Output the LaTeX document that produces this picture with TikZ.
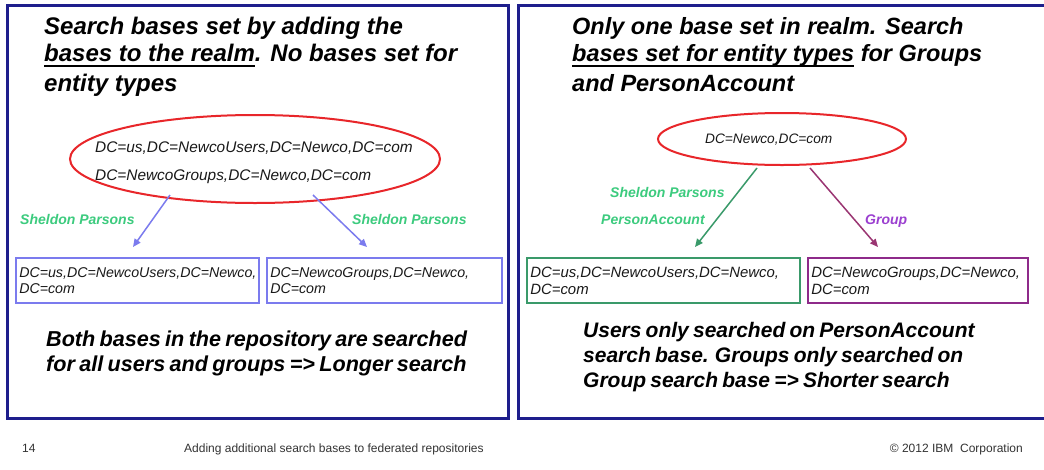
\documentclass[tikz,border=0pt]{standalone}
\usepackage{fontspec}
\setmainfont{Liberation Sans}
\usetikzlibrary{shapes.geometric,arrows.meta}

\definecolor{navy}{HTML}{1E1E8C}
\definecolor{realmred}{HTML}{E8262A}
\definecolor{periw}{HTML}{7B7BEE}
\definecolor{lblgreen}{HTML}{3CCB7E}
\definecolor{pagreen}{HTML}{3A9A6A}
\definecolor{grpplum}{HTML}{8E2A8A}
\definecolor{arrplum}{HTML}{9A3572}
\definecolor{grpviolet}{HTML}{9B3FD0}
\definecolor{footgray}{HTML}{333333}

% underline drawn as a rule a fixed distance under the baseline
\newcommand{\ulbar}[1]{\leavevmode\setbox0\hbox{#1}\rlap{\rule[-5.8pt]{\wd0}{1.6pt}}\box0\relax}
\newcommand{\tightwords}{\spaceskip=0.2em plus 0.05em\relax}

\begin{document}
\begin{tikzpicture}[x=1pt,y=-1pt,
  panel/.style={draw=navy,line width=2.4pt},
  headline/.style={anchor=base west,inner sep=0pt,
    font=\fontsize{24}{28}\selectfont\bfseries\itshape},
  summary/.style={anchor=base west,inner sep=0pt,
    font=\fontsize{21}{26}\selectfont\bfseries\itshape\tightwords},
  dn/.style={anchor=base west,inner sep=0pt,
    font=\fontsize{15.4}{18}\selectfont\itshape,text=black!90},
  realm/.style={ellipse,draw=realmred,line width=2pt,inner sep=0pt},
  basebox/.style={rectangle,line width=2pt,inner xsep=3.3pt,inner ysep=0pt,
    align=left,minimum height=45pt,
    font=\fontsize{14.2}{16.5}\selectfont\itshape,text=black!90},
  lbl/.style={anchor=base west,inner sep=0pt,
    font=\fontsize{14}{16}\selectfont\bfseries\itshape},
  link/.style={line width=1.5pt,-{Triangle[length=8pt,width=7pt]}},
  foot/.style={inner sep=0pt,font=\fontsize{12}{14}\selectfont,text=footgray}]

\useasboundingbox (0,0) rectangle (1044,469);
\fill[white] (0,0) rectangle (1044,469);

% two panels
\draw[panel] (7.5,5.5) rectangle (508.5,418.5);
\draw[panel] (518.5,5.5) rectangle (1052,418.5);

% ---------- left panel: bases added to the realm ----------
\node[headline] (tl1) at (44,34) {Search bases set by adding the};
\node[headline] (tl2) at (44,61) {\ulbar{bases to the realm}. No bases set for};
\node[headline] (tl3) at (44,91) {entity types};

\node[realm,minimum width=370pt,minimum height=88pt] (realmL) at (255,159) {};
\node[dn] (dnL1) at (95,152.5) {DC=us,DC=NewcoUsers,DC=Newco,DC=com};
\node[dn] (dnL2) at (95,180) {DC=NewcoGroups,DC=Newco,DC=com};

\node[basebox,draw=periw,minimum width=243pt,text width=236.4pt] (boxL1) at (137.5,280.5)
  {DC=us,DC=NewcoUsers,DC=Newco,\\DC=com};
\node[basebox,draw=periw,minimum width=235pt,text width=228.4pt] (boxL2) at (384.5,280.5)
  {DC=NewcoGroups,DC=Newco,\\DC=com};

\draw[link,periw] ([shift={(-85,36)}]realmL.center) -- ([shift={(-4.5,-10)}]boxL1.north);
\draw[link,periw] ([shift={(58,36)}]realmL.center) -- ([shift={(-17.5,-10)}]boxL2.north);

\node[lbl,text=lblgreen] (spL1) at (20,224.5) {Sheldon Parsons};
\node[lbl,text=lblgreen] (spL2) at (352,224.5) {Sheldon Parsons};

\node[summary,font=\fontsize{21.6}{26}\selectfont\bfseries\itshape\tightwords] (sumL1) at (46,346) {Both bases in the repository are searched};
\node[summary,font=\fontsize{21.6}{26}\selectfont\bfseries\itshape\tightwords] (sumL2) at (46,371.5) {for all users and groups => Longer search};

% ---------- right panel: bases set per entity type ----------
\node[headline,font=\fontsize{23.5}{28}\selectfont\bfseries\itshape] (tr1) at (572,34) {Only one base set in realm. Search};
\node[headline,font=\fontsize{23.5}{28}\selectfont\bfseries\itshape] (tr2) at (572,61) {\ulbar{bases set for entity types} for Groups};
\node[headline,font=\fontsize{23.5}{28}\selectfont\bfseries\itshape] (tr3) at (572,91) {and PersonAccount};

\node[realm,minimum width=248pt,minimum height=52pt] (realmR) at (782,139) {};
\node[dn,font=\fontsize{13.7}{16}\selectfont\itshape] (dnR) at (705,143) {DC=Newco,DC=com};

\node[basebox,draw=pagreen,minimum width=273pt,text width=266.4pt,
  font=\fontsize{14.9}{17}\selectfont\itshape] (boxR1) at (663.5,280.5)
  {DC=us,DC=NewcoUsers,DC=Newco,\\DC=com};
\node[basebox,draw=grpplum,minimum width=220pt,text width=213.4pt,
  font=\fontsize{14.9}{17}\selectfont\itshape] (boxR2) at (918,280.5)
  {DC=NewcoGroups,DC=Newco,\\DC=com};

\draw[link,pagreen] ([shift={(-25,29)}]realmR.center) -- ([shift={(31.5,-10)}]boxR1.north);
\draw[link,arrplum] ([shift={(28,29)}]realmR.center) -- ([shift={(-40,-10)}]boxR2.north);

\node[lbl,text=lblgreen] (spR) at (610,197.5) {Sheldon Parsons};
\node[lbl,text=lblgreen] (paR) at (601,224.5) {PersonAccount};
\node[lbl,text=grpviolet] (grR) at (865,224.5) {Group};

\node[summary] (sumR1) at (583,337) {Users only searched on PersonAccount};
\node[summary] (sumR2) at (583,362) {search base. Groups only searched on};
\node[summary] (sumR3) at (583,387) {Group search base => Shorter search};

% ---------- footer ----------
\node[foot,anchor=base west] (pgno) at (22,452) {14};
\node[foot,anchor=base west] (ftitle) at (184,452) {Adding additional search bases to federated repositories};
\node[foot,anchor=base east] (copy) at (1023,452) {© 2012 IBM\ \ Corporation};
\end{tikzpicture}
\end{document}
